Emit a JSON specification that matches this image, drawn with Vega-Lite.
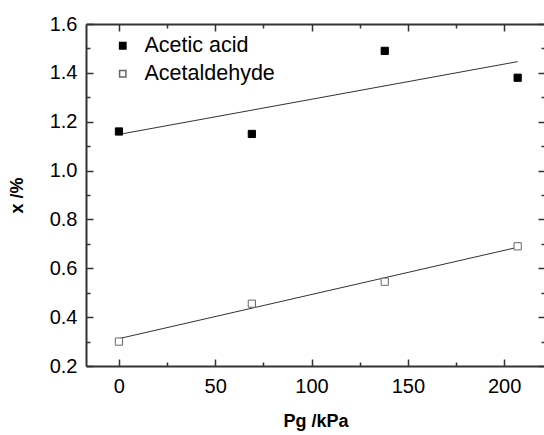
{
  "$schema": "https://vega.github.io/schema/vega-lite/v6.json",
  "width": 459,
  "height": 342,
  "autosize": {"type": "none"},
  "padding": {"left": 86, "top": 24, "right": 0, "bottom": 69},
  "background": "white",
  "config": {
    "view": {"stroke": null},
    "font": "Liberation Sans",
    "axis": {
      "grid": false,
      "domainColor": "#333333",
      "domainWidth": 2,
      "tickColor": "#333333",
      "tickWidth": 1.5,
      "labelColor": "black",
      "labelFont": "Liberation Sans",
      "labelFontSize": 20,
      "titleFont": "Liberation Sans",
      "titleFontSize": 18,
      "titleFontWeight": "bold",
      "titleColor": "black"
    }
  },
  "datasets": {
    "pts": [
      {"P": 0, "x": 1.16, "series": "Acetic acid"},
      {"P": 69, "x": 1.15, "series": "Acetic acid"},
      {"P": 138, "x": 1.49, "series": "Acetic acid"},
      {"P": 207, "x": 1.38, "series": "Acetic acid"},
      {"P": 0, "x": 0.30, "series": "Acetaldehyde"},
      {"P": 69, "x": 0.455, "series": "Acetaldehyde"},
      {"P": 138, "x": 0.545, "series": "Acetaldehyde"},
      {"P": 207, "x": 0.69, "series": "Acetaldehyde"}
    ],
    "fit": [
      {"P": 0, "x": 1.148, "series": "Acetic acid"},
      {"P": 207, "x": 1.446, "series": "Acetic acid"},
      {"P": 0, "x": 0.312, "series": "Acetaldehyde"},
      {"P": 207, "x": 0.686, "series": "Acetaldehyde"}
    ]
  },
  "resolve": {"axis": {"x": "independent", "y": "independent"}},
  "layer": [
    {
      "data": {"name": "fit"},
      "mark": {"type": "line", "color": "#333333", "strokeWidth": 1},
      "encoding": {
        "x": {"field": "P", "type": "quantitative", "scale": {"domain": [-17.1, 221.2], "nice": false, "zero": false},
              "axis": {"orient": "bottom", "values": [0, 50, 100, 150, 200], "tickSize": -7, "labelPadding": 17, "title": "Pg /kPa", "titlePadding": 16}},
        "y": {"field": "x", "type": "quantitative", "scale": {"domain": [0.2, 1.6], "nice": false, "zero": false},
              "axis": {"orient": "left", "values": [0.2, 0.4, 0.6, 0.8, 1.0, 1.2, 1.4, 1.6], "format": ".1f", "tickSize": -7, "labelPadding": 16, "title": "x /%", "titlePadding": 23}},
        "detail": {"field": "series"}
      }
    },
    {
      "data": {"name": "pts"},
      "mark": {"type": "point", "shape": "square", "size": 52, "strokeWidth": 1, "opacity": 1},
      "encoding": {
        "x": {"field": "P", "type": "quantitative", "axis": null},
        "y": {"field": "x", "type": "quantitative", "axis": null},
        "fill": {"field": "series", "type": "nominal", "sort": ["Acetic acid", "Acetaldehyde"],
                 "scale": {"domain": ["Acetic acid", "Acetaldehyde"], "range": ["black", "white"]},
                 "legend": {"title": null, "orient": "none", "legendX": 26, "legendY": 11, "labelFontSize": 21.5, "labelFont": "Liberation Sans", "labelColor": "black", "symbolSize": 40, "rowPadding": 5, "labelOffset": 11, "symbolType": "square"}},
        "stroke": {"field": "series", "type": "nominal", "sort": ["Acetic acid", "Acetaldehyde"],
                   "scale": {"domain": ["Acetic acid", "Acetaldehyde"], "range": ["black", "#666666"]},
                   "legend": {"title": null, "orient": "none", "legendX": 26, "legendY": 11, "labelFontSize": 21.5, "labelFont": "Liberation Sans", "labelColor": "black", "symbolSize": 40, "rowPadding": 5, "labelOffset": 11, "symbolType": "square"}}
      }
    },
    {
      "data": {"name": "pts"},
      "mark": {"type": "point", "opacity": 0},
      "encoding": {
        "x": {"field": "P", "type": "quantitative",
              "axis": {"orient": "top", "values": [0, 50, 100, 150, 200], "tickSize": -7, "labels": false, "title": null}},
        "y": {"field": "x", "type": "quantitative",
              "axis": {"orient": "right", "values": [0.2, 0.4, 0.6, 0.8, 1.0, 1.2, 1.4, 1.6], "tickSize": -7, "labels": false, "title": null}}
      }
    },
    {
      "data": {"name": "pts"},
      "mark": {"type": "point", "opacity": 0},
      "encoding": {
        "x": {"field": "P", "type": "quantitative",
              "axis": {"orient": "bottom", "values": [25, 75, 125, 175], "tickSize": -4, "labels": false, "domain": false, "title": null}},
        "y": {"field": "x", "type": "quantitative",
              "axis": {"orient": "left", "values": [0.3, 0.5, 0.7, 0.9, 1.1, 1.3, 1.5], "tickSize": -4, "labels": false, "domain": false, "title": null}}
      }
    },
    {
      "data": {"name": "pts"},
      "mark": {"type": "point", "opacity": 0},
      "encoding": {
        "x": {"field": "P", "type": "quantitative",
              "axis": {"orient": "top", "values": [25, 75, 125, 175], "tickSize": -4, "labels": false, "domain": false, "title": null}},
        "y": {"field": "x", "type": "quantitative",
              "axis": {"orient": "right", "values": [0.3, 0.5, 0.7, 0.9, 1.1, 1.3, 1.5], "tickSize": -4, "labels": false, "domain": false, "title": null}}
      }
    }
  ]
}
